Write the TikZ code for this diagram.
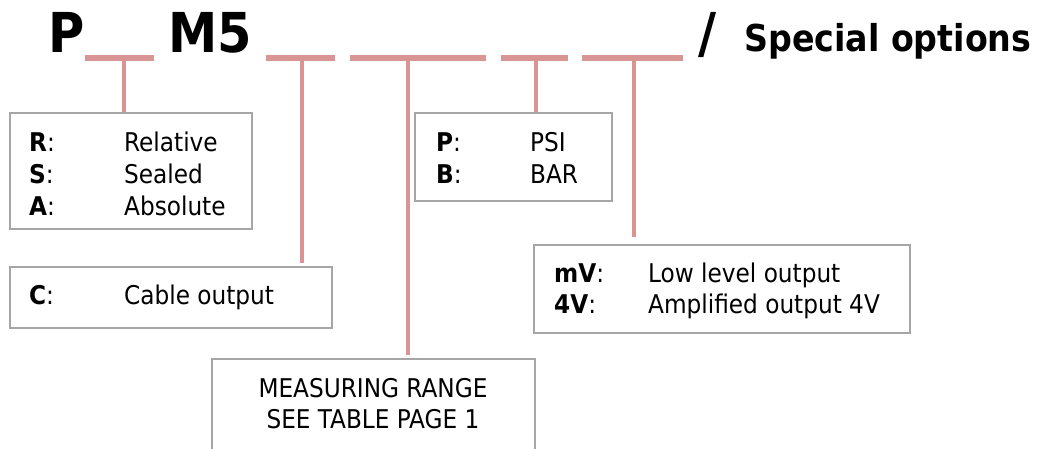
\documentclass[tikz,border=0pt]{standalone}
\usepackage{fontspec}
\setmainfont{DejaVu Sans Condensed}
\definecolor{stempink}{HTML}{D99594}
\definecolor{boxgray}{HTML}{A6A6A6}
\begin{document}
\begin{tikzpicture}[x=1pt,y=-1pt,
  bar/.style={fill=stempink,draw=none,inner sep=0pt,minimum height=6pt},
  stem/.style={draw=stempink,line width=4pt},
  optbox/.style={draw=boxgray,line width=2pt,fill=white,inner sep=0pt},
  txt/.style={anchor=base west,inner sep=0pt,font=\fontsize{25.8}{31}\selectfont},
  ctxt/.style={anchor=base,inner sep=0pt,font=\fontsize{25.8}{31}\selectfont},
  big/.style={anchor=base west,inner sep=0pt,font=\fontsize{55}{60}\selectfont\bfseries},
  mid/.style={anchor=base west,inner sep=0pt,font=\fontsize{37}{40}\selectfont\bfseries}]
\useasboundingbox (0,0) rectangle (1038,449);
\clip (0,0) rectangle (1038,449);
% title
\node[big] (tP) at (48,53) {P};
\node[big] (tM) at (168,53) {M5};
\node[big] (tS) at (698,53) {/};
\node[mid] (tO) at (744,52) {Special options};
% bars
\node[bar,minimum width=69pt] (b1) at (119.5,58) {};
\node[bar,minimum width=69pt] (b2) at (300.5,58) {};
\node[bar,minimum width=136pt] (b3) at (418,58) {};
\node[bar,minimum width=67pt] (b4) at (534.5,58) {};
\node[bar,minimum width=101pt] (b5) at (632.5,58) {};
% boxes
\node[optbox,minimum width=242pt,minimum height=116pt] (bxA) at (131,171) {};
\node[optbox,minimum width=322pt,minimum height=61pt] (bxC) at (171,297.5) {};
\node[optbox,minimum width=197pt,minimum height=88pt] (bxP) at (513.5,157) {};
\node[optbox,minimum width=376pt,minimum height=88pt] (bxV) at (722,289) {};
\node[optbox,minimum width=323pt,minimum height=111pt] (bxM) at (373.5,414.5) {};
% stem end points
\coordinate (s1) at (124,112);
\coordinate (s2) at (302,263);
\coordinate (s3) at (408,355);
\coordinate (s4) at (536,112);
\coordinate (s5) at (634,237);
\draw[stem] (b1.south -| s1) -- (s1);
\draw[stem] (b2.south -| s2) -- (s2);
\draw[stem] (b3.south -| s3) -- (s3);
\draw[stem] (b4.south -| s4) -- (s4);
\draw[stem] (b5.south -| s5) -- (s5);
% box A
\node[txt] (kR) at (29,152) {\textbf{R}:};
\node[txt] (vR) at (124,152) {Relative};
\node[txt] (kS) at (29,183.5) {\textbf{S}:};
\node[txt] (vS) at (124,183.5) {Sealed};
\node[txt] (kA) at (29,215) {\textbf{A}:};
\node[txt] (vA) at (124,215) {Absolute};
% box C
\node[txt] (kC) at (29,304) {\textbf{C}:};
\node[txt] (vC) at (124,304) {Cable output};
% box P/B
\node[txt] (kP) at (436,152) {\textbf{P}:};
\node[txt] (vP) at (530,152) {PSI};
\node[txt] (kB) at (436,183) {\textbf{B}:};
\node[txt] (vB) at (530,183) {BAR};
% box mV
\node[txt] (kmV) at (554,282) {\textbf{mV}:};
\node[txt] (vmV) at (648,282) {Low level output};
\node[txt] (k4V) at (554,313) {\textbf{4V}:};
\node[txt] (v4V) at (648,313) {Amplified output 4V};
% measuring range
\node[ctxt] (m1) at (373,397) {MEASURING RANGE};
\node[ctxt] (m2) at (373,428) {SEE TABLE PAGE 1};
\end{tikzpicture}
\end{document}
